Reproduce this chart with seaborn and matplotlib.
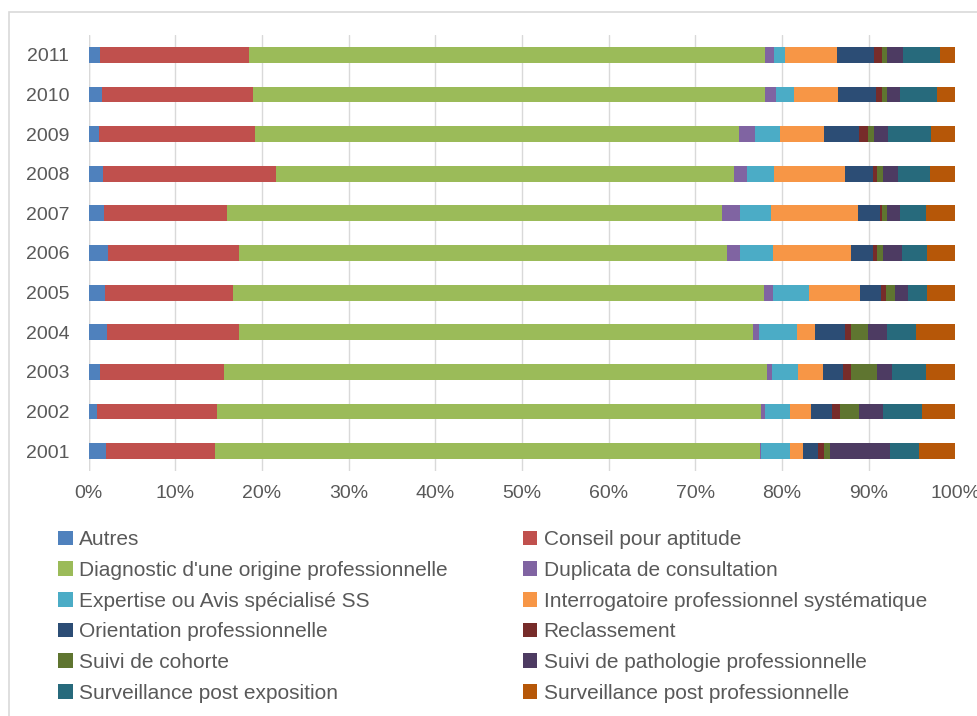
import numpy as np
import pandas as pd
import matplotlib
matplotlib.use("Agg")
import matplotlib.pyplot as plt
from matplotlib.patches import Rectangle, Patch
from matplotlib.font_manager import fontManager
import seaborn as sns

years = ["2001", "2002", "2003", "2004", "2005", "2006",
         "2007", "2008", "2009", "2010", "2011"]

categories = [
    "Autres",
    "Conseil pour aptitude",
    "Diagnostic d'une origine professionnelle",
    "Duplicata de consultation",
    "Expertise ou Avis spécialisé SS",
    "Interrogatoire professionnel systématique",
    "Orientation professionnelle",
    "Reclassement",
    "Suivi de cohorte",
    "Suivi de pathologie professionnelle",
    "Surveillance post exposition",
    "Surveillance post professionnelle",
]

# Share (%) of each motive per year, 2001 -> 2011
autres         = [2.0, 1.0, 1.3, 2.15, 1.9, 2.25, 1.8, 1.65, 1.15, 1.5, 1.3]
conseil        = [12.6, 13.8, 14.3, 15.15, 14.7, 15.05, 14.1, 19.95, 18.05, 17.5, 17.2]
diagnostic     = [62.9, 62.8, 62.6, 59.3, 61.25, 56.3, 57.2, 52.9, 55.8, 59.0, 59.5]
duplicata      = [0.1, 0.4, 0.65, 0.75, 1.15, 1.5, 2.0, 1.5, 1.85, 1.3, 1.1]
expertise      = [3.25, 2.85, 3.0, 4.35, 4.1, 3.9, 3.6, 3.1, 2.85, 2.05, 1.2]
interrogatoire = [1.55, 2.45, 2.85, 2.1, 5.9, 8.9, 10.1, 8.2, 5.1, 5.15, 6.0]
orientation    = [1.7, 2.4, 2.3, 3.4, 2.4, 2.6, 2.5, 3.2, 4.1, 4.3, 4.35]
reclassement   = [0.7, 0.95, 0.9, 0.7, 0.6, 0.4, 0.2, 0.4, 1.0, 0.7, 0.85]
cohorte        = [0.7, 2.25, 3.0, 2.0, 1.0, 0.7, 0.6, 0.7, 0.75, 0.65, 0.6]
pathologie     = [7.0, 2.75, 1.75, 2.25, 1.5, 2.2, 1.5, 1.8, 1.6, 1.45, 1.8]
surv_expo      = [3.3, 4.45, 3.95, 3.25, 2.2, 2.9, 3.0, 3.7, 4.95, 4.3, 4.3]
surv_prof      = [4.2, 3.9, 3.4, 4.6, 3.3, 3.3, 3.4, 2.9, 2.8, 2.1, 1.8]

series = [autres, conseil, diagnostic, duplicata, expertise, interrogatoire,
          orientation, reclassement, cohorte, pathologie, surv_expo, surv_prof]

colors = ["#4F81BD", "#C0504D", "#9BBB59", "#8064A2", "#4BACC6", "#F79646",
          "#2C4D75", "#772C2A", "#5F7530", "#4D3B62", "#276A7C", "#B65708"]

sns.set_theme(style="white")
available = {f.name for f in fontManager.ttflist}
family = "Liberation Sans Narrow" if "Liberation Sans Narrow" in available else "Liberation Sans"
plt.rcParams["font.family"] = [family, "DejaVu Sans"]
text_color = "#595959"
grid_color = "#D9D9D9"

df = pd.DataFrame({c: s for c, s in zip(categories, series)}, index=years)
df = df.div(df.sum(axis=1), axis=0) * 100
cum = df.cumsum(axis=1)

W, H = 977, 716
fig = plt.figure(figsize=(W / 100, H / 100), dpi=100)
ax = fig.add_axes([88.7 / W, 1 - 471 / H, (955.5 - 88.7) / W, (471 - 35) / H])

order = years[::-1]  # 2011 on top
# Stack by overlaying cumulative totals, widest first
for cat, col in reversed(list(zip(categories, colors))):
    sns.barplot(x=cum[cat].values, y=list(cum.index), order=order,
                orient="h", color=col, width=0.4, linewidth=0,
                saturation=1, ax=ax)

ax.set_xlim(0, 100)
ax.set_ylim(10.5, -0.5)
ax.set_xticks(np.arange(0, 101, 10))
ax.set_xticklabels([f"{v}%" for v in range(0, 101, 10)])
ax.set_xlabel("")
ax.set_ylabel("")
ax.set_axisbelow(True)
ax.grid(axis="x", color=grid_color, linewidth=1)
ax.grid(axis="y", visible=False)
for s in ax.spines.values():
    s.set_visible(False)
ax.axvline(0, color=grid_color, linewidth=1, zorder=0.5)
ax.tick_params(axis="both", length=0, labelsize=14, labelcolor=text_color)
ax.tick_params(axis="x", pad=10)
ax.tick_params(axis="y", pad=14)

# Legend in two columns, read row by row
handles = [Patch(facecolor=c, edgecolor="none") for c in colors]
idx = list(range(0, 12, 2)) + list(range(1, 12, 2))
fig.legend([handles[i] for i in idx], [categories[i] for i in idx],
           loc="upper left", bbox_to_anchor=(50 / W, 1 - 522 / H),
           ncol=2, frameon=False, fontsize=15, labelcolor=text_color,
           handlelength=0.7, handleheight=0.7, handletextpad=0.3,
           labelspacing=0.56, columnspacing=3.6, borderaxespad=0)

# Chart area border
fig.add_artist(Rectangle((9 / W, -0.1), 1.2, 1 - 12 / H + 0.1,
                         transform=fig.transFigure, fill=False,
                         edgecolor=grid_color, linewidth=1.2))

fig.savefig("out.png", dpi=100, facecolor="white")
